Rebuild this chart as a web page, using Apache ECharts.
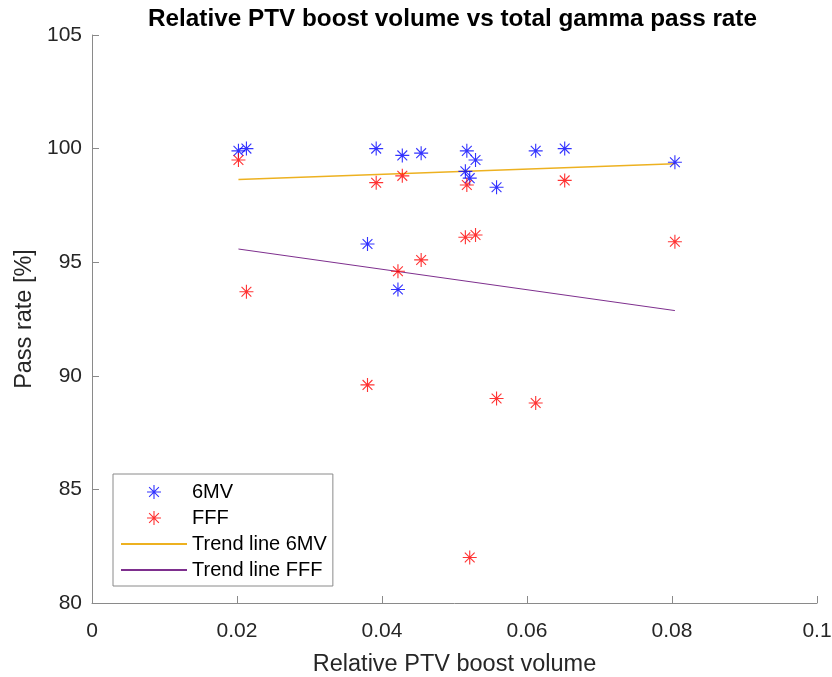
<!DOCTYPE html>
<html>
<head>
<meta charset="utf-8">
<script src="https://cdn.jsdelivr.net/npm/echarts@6/dist/echarts.min.js"></script>
<style>
html,body{margin:0;padding:0;background:#fff;}
#chart{width:832px;height:677px;}
</style>
</head>
<body>
<div id="chart"></div>
<script>
// Relative PTV boost volume (x), shared by both series
var boostVolume = [0.0202, 0.0213, 0.0380, 0.0392, 0.0422, 0.0428, 0.0454, 0.0515, 0.0517, 0.0521, 0.0529, 0.0558, 0.0612, 0.0652, 0.0804];
// Gamma pass rates [%]
var passRate6MV = [99.9, 100.0, 95.8, 100.0, 93.8, 99.7, 99.8, 99.0, 99.9, 98.7, 99.5, 98.3, 99.9, 100.0, 99.4];
var passRateFFF = [99.5, 93.7, 89.6, 98.5, 94.6, 98.8, 95.1, 96.1, 98.4, 82.0, 96.2, 89.0, 88.8, 98.6, 95.9];
// Trend line endpoints
var trendX = [0.0202, 0.0804];
var trend6MV = [98.64, 99.33];
var trendFFF = [95.58, 92.87];
var seriesNames = ['6MV', 'FFF', 'Trend line 6MV', 'Trend line FFF'];
var xTicks = [0, 0.02, 0.04, 0.06, 0.08, 0.1];
var yTicks = [80, 85, 90, 95, 100, 105];

var asterisk = 'path://M46 0L54 0L54 100L46 100Z M0 46L100 46L100 54L0 54Z ' +
  'M17.8 12.2L87.8 82.2L82.2 87.8L12.2 17.8Z M82.2 12.2L87.8 17.8L17.8 87.8L12.2 82.2Z';

function pairs(xs, ys) { return xs.map(function (x, i) { return [x, ys[i]]; }); }

var font = '"Liberation Sans", Arial, Helvetica, sans-serif';
var textColor = '#262626';
var axisColor = '#8a8a8a';

var chart = echarts.init(document.getElementById('chart'));
chart.setOption({
  backgroundColor: '#ffffff',
  animation: false,
  title: {
    text: 'Relative PTV boost volume vs total gamma pass rate',
    left: 143, top: 2,
    textStyle: { fontFamily: font, fontSize: 24.3, fontWeight: 'bold', color: '#000' }
  },
  grid: { left: 92, right: 15, top: 35, bottom: 74, containLabel: false, outerBoundsMode: 'none' },
  legend: {
    data: [
      { name: seriesNames[0] },
      { name: seriesNames[1] },
      { name: seriesNames[2], itemStyle: { opacity: 0 } },
      { name: seriesNames[3], itemStyle: { opacity: 0 } }
    ],
    orient: 'vertical',
    left: 113, top: 474,
    padding: [8, 6, 6, 7],
    itemWidth: 66, itemHeight: 14, itemGap: 6,
    borderColor: axisColor, borderWidth: 1,
    backgroundColor: '#fff',
    textStyle: { fontFamily: font, fontSize: 20, color: '#000' }
  },
  xAxis: {
    type: 'value', min: xTicks[0], max: xTicks[xTicks.length - 1], interval: 0.02,
    name: 'Relative PTV boost volume', nameLocation: 'middle', nameGap: 50,
    nameTextStyle: { fontFamily: font, fontSize: 23.5, color: textColor },
    axisLine: { show: true, onZero: false, lineStyle: { color: axisColor, width: 1 } },
    axisTick: { show: true, inside: true, length: 7, lineStyle: { color: axisColor } },
    axisLabel: { fontFamily: font, fontSize: 21, color: textColor, margin: 18 },
    splitLine: { show: false }
  },
  yAxis: {
    type: 'value', min: yTicks[0], max: yTicks[yTicks.length - 1], interval: 5,
    name: 'Pass rate [%]', nameLocation: 'middle', nameGap: 53,
    nameTextStyle: { fontFamily: font, fontSize: 23.5, color: textColor },
    axisLine: { show: true, onZero: false, lineStyle: { color: axisColor, width: 1 } },
    axisTick: { show: true, inside: true, length: 7, lineStyle: { color: axisColor } },
    axisLabel: { fontFamily: font, fontSize: 21, color: textColor, margin: 10 },
    splitLine: { show: false }
  },
  series: [
    {
      name: seriesNames[0], type: 'scatter', data: pairs(boostVolume, passRate6MV),
      symbol: asterisk, symbolSize: 14, itemStyle: { color: '#0000ff' }, z: 3
    },
    {
      name: seriesNames[1], type: 'scatter', data: pairs(boostVolume, passRateFFF),
      symbol: asterisk, symbolSize: 14, itemStyle: { color: '#ff0000' }, z: 3
    },
    {
      name: seriesNames[2], type: 'line', data: pairs(trendX, trend6MV),
      symbol: 'none', lineStyle: { color: '#EDB120', width: 1.6 }, itemStyle: { color: '#EDB120' }, z: 2
    },
    {
      name: seriesNames[3], type: 'line', data: pairs(trendX, trendFFF),
      symbol: 'none', lineStyle: { color: '#7E2F8E', width: 1 }, itemStyle: { color: '#7E2F8E' }, z: 2
    }
  ]
});
</script>
</body>
</html>
